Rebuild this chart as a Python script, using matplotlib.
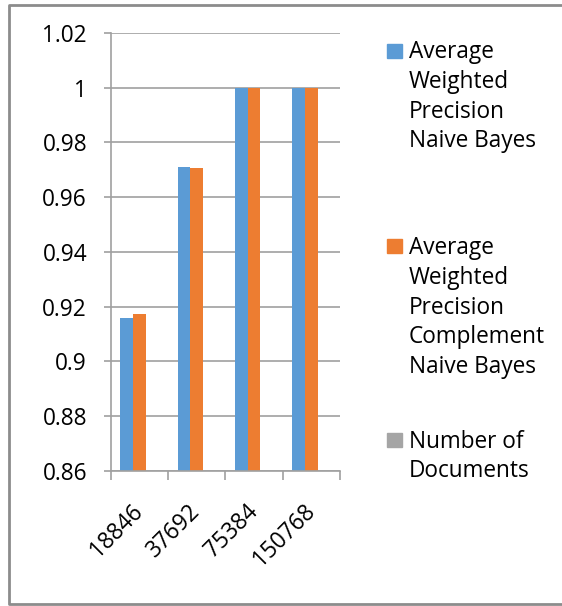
import numpy as np
import matplotlib.pyplot as plt
from matplotlib.lines import Line2D
from matplotlib.patches import Rectangle

plt.rcParams['font.family'] = ['Open Sans', 'DejaVu Sans']

docs = ['18846', '37692', '75384', '150768']
nb_precision = [0.9159, 0.9709, 1.0, 1.0]
cnb_precision = [0.9172, 0.9705, 1.0, 1.0]
num_docs = [0, 0, 0, 0]  # series sits below the axis floor, only shows in legend

series_names = ['Average\nWeighted\nPrecision\nNaive Bayes',
                'Average\nWeighted\nPrecision\nComplement\nNaive Bayes',
                'Number of\nDocuments']
colors = ['#5B9BD5', '#ED7D31', '#A5A5A5']
grid_col = '#A0A0A0'
fs = 16.3

W, H = 562, 606
fig = plt.figure(figsize=(W / 100, H / 100), dpi=100)
ax = fig.add_axes([110.7 / W, 1 - 470.7 / H, (340 - 110.7) / W, (470.7 - 33) / H])

x = np.arange(len(docs))
w = 0.2228
ax.bar(x - w, nb_precision, w, color=colors[0])
ax.bar(x, cnb_precision, w, color=colors[1])
ax.bar(x + w, num_docs, w, color=colors[2])

ax.set_ylim(0.86, 1.02)
ax.set_xlim(-0.5, len(docs) - 0.5)
ax.set_yticks(np.arange(0.86, 1.0201, 0.02))
ax.set_yticklabels(['0.86', '0.88', '0.9', '0.92', '0.94', '0.96', '0.98', '1', '1.02'])
ax.yaxis.grid(True, color=grid_col, lw=1.2)
ax.set_axisbelow(True)

ax.set_xticks(x)
ax.set_xticklabels(docs, rotation=45, ha='right', va='center', rotation_mode='anchor')
ax.set_xticks(np.arange(-0.5, len(docs)), minor=True)
ax.tick_params(axis='x', which='major', length=0, pad=27, labelsize=fs)
ax.tick_params(axis='x', which='minor', length=6.5, color=grid_col, width=1.2)
ax.tick_params(axis='y', length=5, color=grid_col, width=1.2, labelsize=fs, pad=12)

for s in ['top', 'right']:
    ax.spines[s].set_visible(False)
for s in ['left', 'bottom']:
    ax.spines[s].set_color(grid_col)
    ax.spines[s].set_linewidth(1.2)

# legend drawn by hand, one line at a time
first_base = [58.5, 254.5, 447.5]
step = 29.6
for name, col, base in zip(series_names, colors, first_base):
    fig.patches.append(Rectangle((387 / W, 1 - (base - 1) / H), 15 / W, 14 / H,
                                 transform=fig.transFigure, color=col))
    for i, line in enumerate(name.split('\n')):
        fig.text(409 / W, 1 - (base + i * step) / H, line, fontsize=fs,
                 va='baseline', ha='left')

# chart border, right side runs off the canvas
bx = [(W + 20) / W, 9 / W, 9 / W, (W + 20) / W]
by = [1 - 5 / H, 1 - 5 / H, 1 - 604 / H, 1 - 604 / H]
fig.add_artist(Line2D(bx, by, transform=fig.transFigure, color='#8C8C8C', lw=2))

fig.savefig('out.png', dpi=100)
